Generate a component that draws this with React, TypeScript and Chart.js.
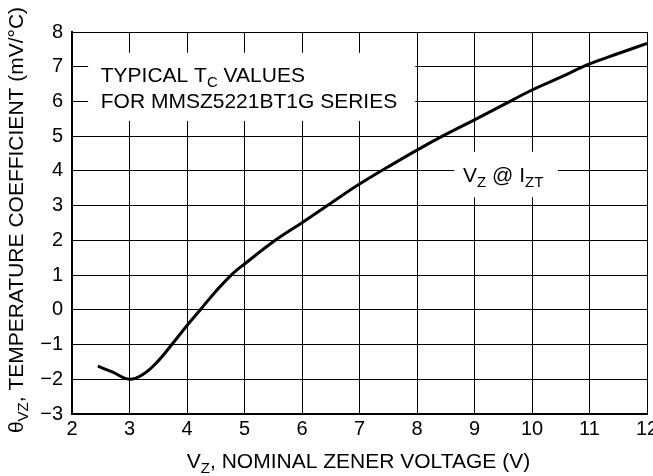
import React, { useEffect, useRef } from "react";
import { Chart, registerables } from "chart.js";

Chart.register(...registerables);

// Nominal zener voltage (V)
const vz = [2.45, 2.7, 3.0, 3.25, 3.5, 3.75, 4.0, 4.25, 4.5, 4.8, 5.0, 5.5, 6.0, 6.5, 7.0, 7.5, 8.0, 8.5, 9.0, 9.5, 10.0, 10.5, 11.0, 11.5, 12.0];
// Temperature coefficient (mV/°C)
const tc = [-1.62, -1.79, -2.0, -1.84, -1.47, -0.97, -0.45, 0.04, 0.53, 1.05, 1.32, 1.96, 2.51, 3.07, 3.62, 4.12, 4.6, 5.05, 5.47, 5.9, 6.33, 6.7, 7.08, 7.38, 7.67];

const xMin = 2, xMax = 12, yMin = -3, yMax = 8;

const FONT = "'Liberation Sans', Arial, Helvetica, sans-serif";

type Part = { t: string; sub?: boolean };

const noteLine1: Part[] = [{ t: "TYPICAL T" }, { t: "C", sub: true }, { t: " VALUES" }];
const noteLine2: Part[] = [{ t: "FOR MMSZ5221BT1G SERIES" }];
const curveLabel: Part[] = [{ t: "V" }, { t: "Z", sub: true }, { t: " @ I" }, { t: "ZT", sub: true }];
const xTitle: Part[] = [{ t: "V" }, { t: "Z", sub: true }, { t: ", NOMINAL ZENER VOLTAGE (V)" }];
const yTitle: Part[] = [{ t: "θ" }, { t: "VZ", sub: true }, { t: ", TEMPERATURE COEFFICIENT (mV/°C)" }];

const MAIN = 21;
const SUB = 15;
const SUBDY = 5;

function richWidth(ctx: CanvasRenderingContext2D, parts: Part[]) {
  let w = 0;
  for (const p of parts) {
    ctx.font = `${p.sub ? SUB : MAIN}px ${FONT}`;
    w += ctx.measureText(p.t).width;
  }
  return w;
}

function drawRich(ctx: CanvasRenderingContext2D, x: number, y: number, parts: Part[], align: "left" | "center") {
  ctx.save();
  ctx.fillStyle = "#000";
  ctx.textBaseline = "alphabetic";
  ctx.textAlign = "left";
  let cx = align === "center" ? x - richWidth(ctx, parts) / 2 : x;
  for (const p of parts) {
    ctx.font = `${p.sub ? SUB : MAIN}px ${FONT}`;
    ctx.fillText(p.t, cx, y + (p.sub ? SUBDY : 0));
    cx += ctx.measureText(p.t).width;
  }
  ctx.restore();
}

const notesPlugin = {
  id: "notes",
  beforeDatasetsDraw(chart: any) {
    const { ctx, scales } = chart;
    const xs = scales.x, ys = scales.y;
    ctx.save();
    ctx.fillStyle = "#fff";
    const box = (x0: number, x1: number, y0: number, y1: number) => {
      const px0 = xs.getPixelForValue(x0), px1 = xs.getPixelForValue(x1);
      const py0 = ys.getPixelForValue(y0), py1 = ys.getPixelForValue(y1);
      ctx.fillRect(px0, py0, px1 - px0, py1 - py0);
    };
    box(2.28, 7.97, 7.4, 5.44);
    box(8.65, 10.45, 4.55, 3.24);
    ctx.restore();
  },
  afterDatasetsDraw(chart: any) {
    const { ctx, scales } = chart;
    const xs = scales.x, ys = scales.y;
    drawRich(ctx, xs.getPixelForValue(2.5), ys.getPixelForValue(6.55), noteLine1, "left");
    drawRich(ctx, xs.getPixelForValue(2.5), ys.getPixelForValue(5.8), noteLine2, "left");
    drawRich(ctx, xs.getPixelForValue(8.8), ys.getPixelForValue(3.68), curveLabel, "left");
  },
  afterDraw(chart: any) {
    const { ctx, chartArea } = chart;
    drawRich(ctx, (chartArea.left + chartArea.right) / 2 - 1, chartArea.bottom + 54, xTitle, "center");
    ctx.save();
    ctx.translate(23, (chartArea.top + chartArea.bottom) / 2 - 3);
    ctx.rotate(-Math.PI / 2);
    drawRich(ctx, 0, 0, yTitle, "center");
    ctx.restore();
  },
};

export default function App() {
  const ref = useRef<HTMLCanvasElement | null>(null);
  useEffect(() => {
    if (!ref.current) return;
    const chart = new Chart(ref.current, {
      type: "line",
      data: {
        datasets: [
          {
            data: vz.map((v, i) => ({ x: v, y: tc[i] })),
            borderColor: "#000",
            borderWidth: 3,
            pointRadius: 0,
            tension: 0.4,
            fill: false,
          },
        ],
      },
      options: {
        animation: false,
        responsive: true,
        maintainAspectRatio: false,
        layout: { padding: { top: 32, right: 6, left: 0, bottom: 0 } },
        plugins: { legend: { display: false }, tooltip: { enabled: false } },
        scales: {
          x: {
            type: "linear",
            min: xMin,
            max: xMax,
            ticks: { stepSize: 1, color: "#000", font: { size: 20, family: FONT }, padding: 3, maxRotation: 0 },
            grid: { color: "#000", lineWidth: 1, drawTicks: false },
            border: { display: true, color: "#000", width: 2 },
            afterFit: (s: any) => {
              s.height = 62;
              s.paddingLeft = 0;
              s.paddingRight = 0;
            },
          },
          y: {
            type: "linear",
            min: yMin,
            max: yMax,
            ticks: {
              stepSize: 1,
              color: "#000",
              font: { size: 20, family: FONT },
              padding: 9,
              callback: (v: any) => (v < 0 ? "\u2212" + Math.abs(v) : String(v)),
            },
            grid: { color: "#000", lineWidth: 1, drawTicks: false },
            border: { display: true, color: "#000", width: 2 },
            afterFit: (s: any) => {
              s.width = 72;
              s.paddingTop = 0;
              s.paddingBottom = 0;
            },
          },
        },
      },
      plugins: [notesPlugin],
    } as any);
    return () => chart.destroy();
  }, []);
  return (
    <div style={{ position: "fixed", left: 0, top: 0, width: 653, height: 476, background: "#fff" }}>
      <canvas ref={ref} />
    </div>
  );
}
